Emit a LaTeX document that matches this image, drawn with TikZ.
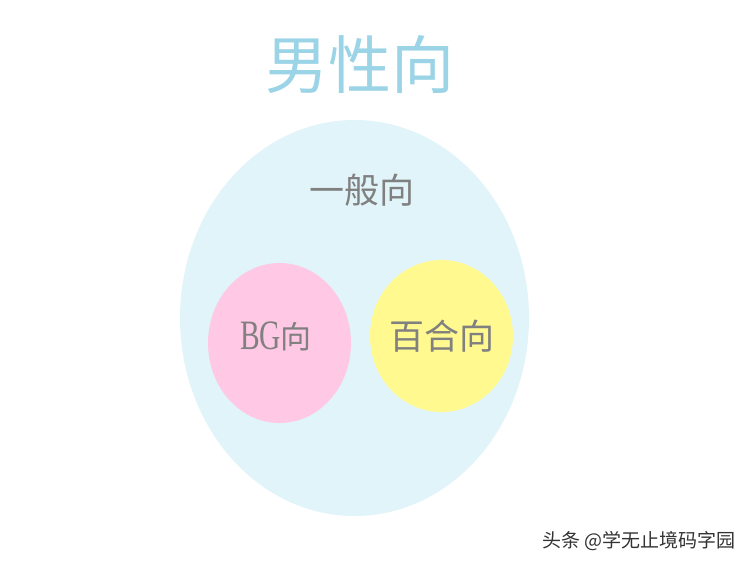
\documentclass[tikz,border=0pt]{standalone}
\usepackage{graphicx}
\usepackage{fontspec}
\setmainfont{Liberation Serif}
\newfontfamily\cjk{Noto Sans CJK SC}
\definecolor{titleblue}{HTML}{9AD4E6}
\definecolor{outerblue}{HTML}{E1F4FA}
\definecolor{pinkfill}{HTML}{FFC8E4}
\definecolor{yellowfill}{HTML}{FFF990}
\definecolor{labelgray}{HTML}{808080}
\definecolor{markgray}{HTML}{333333}
\tikzset{
  setfill/.style={draw=none, ellipse, inner sep=0pt},
  setlabel/.style={text=labelgray, font=\cjk\fontsize{35}{35}\selectfont, inner sep=0pt}
}
\usetikzlibrary{shapes.geometric}
\begin{document}
\begin{tikzpicture}[x=1pt,y=-1pt]
\useasboundingbox (0,0) rectangle (753,566);
\fill[white] (0,0) rectangle (753,566);
\node[setfill, fill=outerblue, minimum width=349pt, minimum height=396pt] (outer) at (354.5,318) {};
\node[setfill, fill=pinkfill, minimum width=143pt, minimum height=160pt] (bg) at (279.5,343) {};
\node[setfill, fill=yellowfill, minimum width=143pt, minimum height=152pt] (yuri) at (441.5,336) {};
\node[text=titleblue, font=\cjk\fontsize{63}{63}\selectfont, inner sep=0pt] (title) at (360,64) {男性向};
\node[setlabel] (general) at (361.5,190) {一般向};
\node[setlabel, font=\cjk\fontsize{31}{31}\selectfont] (bglabel) at (276,336) {\fontspec{Liberation Serif}\raisebox{-1pt}{\scalebox{0.95}[1.35]{BG}}\cjk 向};
\node[setlabel] (yurilabel) at (442,336) {百合向};
\node[text=markgray, font=\cjk\fontsize{19}{19}\selectfont, inner sep=0pt, anchor=east] (mark) at (736,541) {头条 @学无止境码字园};
\end{tikzpicture}
\end{document}
